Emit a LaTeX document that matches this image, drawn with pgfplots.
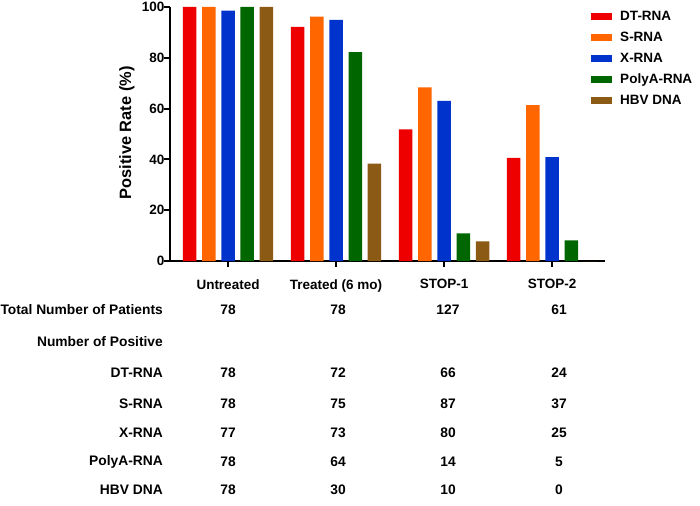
\documentclass[border=0pt]{standalone}
\usepackage{fontspec}
\setmainfont{Liberation Sans}
\usepackage{pgfplots}
\pgfplotsset{compat=1.18}

\definecolor{cred}{RGB}{238,0,0}
\definecolor{corange}{RGB}{255,102,0}
\definecolor{cblue}{RGB}{0,51,204}
\definecolor{cgreen}{RGB}{0,102,0}
\definecolor{cbrown}{RGB}{139,90,20}

\newcommand{\tf}{\bfseries\fontsize{13.8}{15}\selectfont}

\begin{document}
\begin{tikzpicture}
\useasboundingbox (0pt,0pt) rectangle (700pt,-505pt);
\begin{axis}[
  at={(170pt,-261pt)}, anchor=south west,
  scale only axis, width=435pt, height=254pt,
  xmin=-0.537, xmax=3.49, ymin=0, ymax=100,
  axis x line=bottom, axis y line=left,
  axis line style={-, line width=2.2pt},
  ybar, bar width=0.125,
  xtick={0,1,2,3},
  xticklabels={Untreated, Treated (6 mo), STOP-1, STOP-2},
  ytick={0,20,...,100},
  tick align=outside, major tick length=6pt,
  tick style={line width=2pt, black},
  /pgf/number format/assume math mode=true,
  tick label style={font=\bfseries\fontsize{13.5}{15}\selectfont},
  xticklabel style={yshift=-9pt},
  yticklabel style={xshift=4pt},
  ylabel={Positive Rate (\%)},
  ylabel style={at={(axis description cs:-0.099,0.504)}, anchor=center,
    font=\bfseries\fontsize{16.4}{18}\selectfont},
  legend style={at={(axis description cs:0.961,1.0)}, anchor=north west,
    draw=none, fill=none, font=\bfseries\fontsize{13.5}{15}\selectfont,
    row sep=6pt, /tikz/every odd column/.append style={column sep=6pt}},
  legend cell align=left,
  legend image code/.code={\fill[#1] (0pt,-3.5pt) rectangle (21pt,3.5pt);},
  clip=false,
]
\addplot[fill=cred, draw=none, bar shift=-0.356] coordinates {(0,100) (1,92.2) (2,51.8) (3,40.6)};
\addplot[fill=corange, draw=none, bar shift=-0.178] coordinates {(0,100) (1,96.2) (2,68.4) (3,61.4)};
\addplot[fill=cblue, draw=none, bar shift=0] coordinates {(0,98.6) (1,94.9) (2,63.0) (3,40.9)};
\addplot[fill=cgreen, draw=none, bar shift=0.178] coordinates {(0,100) (1,82.2) (2,10.9) (3,8.1)};
\addplot[fill=cbrown, draw=none, bar shift=0.356] coordinates {(0,100) (1,38.3) (2,7.7) (3,0)};
\legend{DT-RNA, S-RNA, X-RNA, PolyA-RNA, HBV DNA}
\end{axis}

% table below the chart
\begin{scope}[every node/.style={font=\tf}]
\node[anchor=east, inner sep=0pt] at (163pt,-310pt) {Total Number of Patients};
\node[anchor=east, inner sep=0pt] at (163pt,-342pt) {Number of Positive};
\node[anchor=east, inner sep=0pt] at (163pt,-373pt) {DT-RNA};
\node[anchor=east, inner sep=0pt] at (163pt,-404pt) {S-RNA};
\node[anchor=east, inner sep=0pt] at (163pt,-433pt) {X-RNA};
\node[anchor=east, inner sep=0pt] at (163pt,-462pt) {PolyA-RNA};
\node[anchor=east, inner sep=0pt] at (163pt,-490pt) {HBV DNA};
\foreach \y/\a/\b/\c/\d in {310/78/78/127/61, 373/78/72/66/24, 404/78/75/87/37,
    433/77/73/80/25, 462/78/64/14/5, 490/78/30/10/0} {
  \node at (228pt,-\y pt) {\a};
  \node at (338pt,-\y pt) {\b};
  \node at (448pt,-\y pt) {\c};
  \node at (559pt,-\y pt) {\d};
}
\end{scope}
\end{tikzpicture}
\end{document}
